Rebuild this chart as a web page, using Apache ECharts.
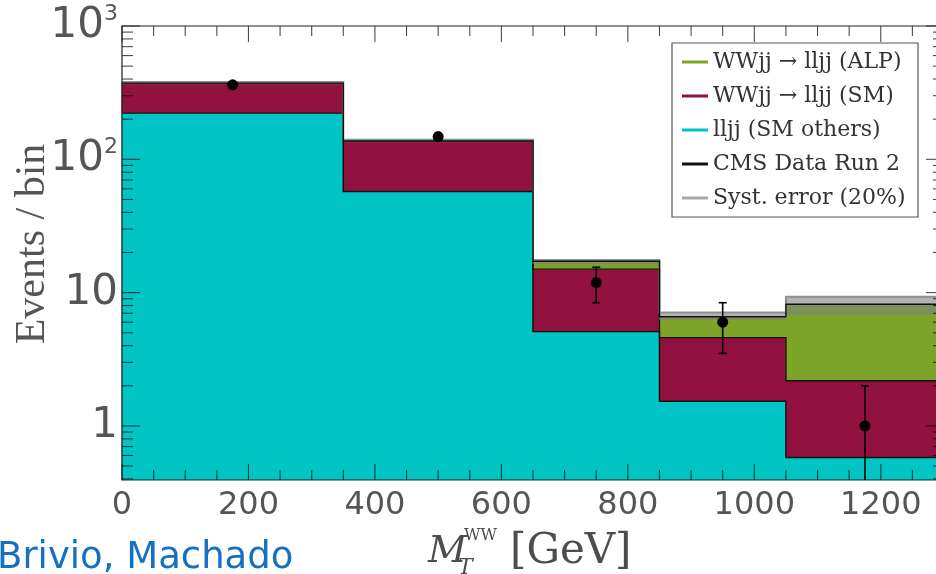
<!DOCTYPE html>
<html><head><meta charset="utf-8">
<script src="https://cdn.jsdelivr.net/npm/echarts@6/dist/echarts.min.js"></script>
<style>html,body{margin:0;padding:0;background:#fff}#c{width:936px;height:574px}</style>
</head><body><div id="c"></div>
<script>
// ---- data ----
const binEdges = [0, 350, 650, 850, 1050, 1300];
const smOthers = [222, 57.3, 5.1, 1.53, 0.58];      // lljj (SM others)
const wwSM = [150, 79, 9.9, 3.07, 1.6];              // WWjj -> lljj (SM)
const wwALP = [1, 1, 2.2, 2.0, 6.0];                 // WWjj -> lljj (ALP)
const systUp = [380, 140, 17.6, 7.08, 9.33];
const systDown = [366, 134, 16.4, 6.24, 6.8];
const dataX = [175, 500, 750, 950, 1175];
const dataY = [362, 148, 11.9, 6.0, 1.0];
const dataErrUp = [378, 158, 15.5, 8.4, 2.0];
const dataErrDown = [347, 137, 8.4, 3.5, 0];
const xTickLabels = [0, 200, 400, 600, 800, 1000, 1200];
const yTickLabels = [1, 10, 100, 1000];
const xRange = [0, 1300];
const yRange = [0.393, 1000];
const legendNames = ['WWjj → lljj (ALP)', 'WWjj → lljj (SM)', 'lljj (SM others)', 'CMS Data Run 2', 'Syst. error (20%)'];
const legendColors = ['#7ba428', '#921240', '#00c4c4', '#111111', '#a8a8a8'];

const COL_CYAN = '#00c5c4', COL_RED = '#92123f', COL_GREEN = '#7ba428';

const stack1 = smOthers.slice();
const stack2 = stack1.map((v, i) => v + wwSM[i]);
const stack3 = stack2.map((v, i) => v + wwALP[i]);

function fillSeries(name, color, lows, highs, z) {
  return {
    type: 'custom', name, coordinateSystem: 'cartesian2d', z, silent: true,
    data: binEdges.slice(0, -1).map((e, i) => [e, binEdges[i + 1], lows[i], highs[i]]),
    encode: { x: [0, 1], y: [2, 3] },
    renderItem(params, api) {
      const cs = params.coordSys;
      const p0 = api.coord([api.value(0), api.value(3)]);
      const p1 = api.coord([api.value(1), api.value(2)]);
      const yb = Math.min(p1[1], cs.y + cs.height);
      return { type: 'rect', shape: { x: p0[0] - 0.5, y: p0[1], width: p1[0] - p0[0] + 1, height: yb - p0[1] },
        style: { fill: color } };
    }
  };
}
function stepSeries(levels, color, width, z) {
  return {
    type: 'custom', coordinateSystem: 'cartesian2d', z, silent: true,
    data: [[xRange[0], yRange[1]]],
    renderItem(params, api) {
      const pts = [];
      levels.forEach((v, i) => { pts.push(api.coord([binEdges[i], v])); pts.push(api.coord([binEdges[i + 1], v])); });
      return { type: 'polyline', shape: { points: pts }, style: { stroke: color, lineWidth: width, fill: null } };
    }
  };
}

const option = {
  animation: false,
  backgroundColor: '#fff',
  grid: { left: 122, right: -8, top: 26, bottom: 94, containLabel: false, outerBoundsMode: 'none' },
  xAxis: {
    type: 'value', min: xRange[0], max: xRange[1], interval: 200,
    axisLine: { show: false }, axisTick: { show: false }, splitLine: { show: false },
    axisLabel: {
      margin: 10, color: '#555', fontFamily: 'DejaVu Sans', fontSize: 32, showMaxLabel: false,
      formatter: v => xTickLabels.includes(v) ? String(v) : ''
    }
  },
  yAxis: {
    type: 'log', logBase: 10, min: yRange[0], max: yRange[1],
    axisLine: { show: false }, axisTick: { show: false }, splitLine: { show: false },
    axisLabel: {
      margin: 4, color: '#555', fontFamily: 'DejaVu Sans', fontSize: 42,
      formatter: v => {
        const l = Math.log10(v), k = Math.round(l);
        if (Math.abs(l - k) > 1e-6 || !yTickLabels.includes(Math.pow(10, k))) return '';
        return k <= 1 ? String(Math.pow(10, k)) : '{b|10}{s|' + k + '}';
      },
      rich: {
        b: { fontSize: 42, fontFamily: 'DejaVu Sans', color: '#555', lineHeight: 46 },
        s: { fontSize: 22, fontFamily: 'DejaVu Sans', color: '#555', verticalAlign: 'top', lineHeight: 22 }
      }
    },
    name: 'Events / bin', nameLocation: 'middle', nameRotate: 90, nameGap: 68, nameMoveOverlap: false,
    nameTextStyle: { fontFamily: 'Liberation Serif', fontSize: 42, color: '#555', padding: [0, 0, 0, 18] }
  },
  legend: {
    left: 672, top: 43, orient: 'vertical', selectedMode: false,
    backgroundColor: '#fff', borderColor: '#555', borderWidth: 1.2, borderRadius: 0,
    padding: [7, 10, 7, 10], itemGap: 10, itemWidth: 26, itemHeight: 3,
    textStyle: { fontFamily: 'DejaVu Serif', fontSize: 22, color: '#333', lineHeight: 24, width: 195 },
    data: legendNames.map((n, i) => ({ name: n, icon: 'rect', itemStyle: { color: legendColors[i] } }))
  },
  graphic: [
    { type: 'text', x: -3, y: 558, style: { text: 'Brivio, Machado', fontFamily: 'DejaVu Sans', fontSize: 37, fill: '#1670c2', verticalAlign: 'middle' } },
    { type: 'text', x: 428, y: 552, style: { text: 'M', fontFamily: 'DejaVu Serif', fontStyle: 'italic', fontSize: 38, fill: '#4d4d4d', verticalAlign: 'middle' } },
    { type: 'text', x: 464, y: 536, style: { text: 'WW', fontFamily: 'DejaVu Serif', fontSize: 16, fill: '#4d4d4d', verticalAlign: 'middle' } },
    { type: 'text', x: 458, y: 568, style: { text: 'T', fontFamily: 'DejaVu Serif', fontStyle: 'italic', fontSize: 22, fill: '#4d4d4d', verticalAlign: 'middle' } },
    { type: 'text', x: 510, y: 552, style: { text: '[GeV]', fontFamily: 'DejaVu Serif', fontSize: 42, fill: '#4d4d4d', verticalAlign: 'middle' } }
  ],
  series: [
    fillSeries('lljj (SM others)', COL_CYAN, stack1.map(() => yRange[0]), stack1, 2),
    fillSeries('WWjj → lljj (SM)', COL_RED, stack1, stack2, 2),
    fillSeries('WWjj → lljj (ALP)', COL_GREEN, stack2, stack3, 2),
    stepSeries(stack1, '#111', 1.4, 3),
    stepSeries(stack2, '#111', 1.4, 3),
    fillSeries('Syst. error (20%)', 'rgba(128,128,128,0.6)', systDown, systUp, 4),
    stepSeries(systUp, 'rgba(140,140,140,0.95)', 2, 4),
    stepSeries(stack3, '#111', 1.4, 5),
    {
      type: 'custom', name: 'CMS Data Run 2', coordinateSystem: 'cartesian2d', z: 6, silent: true,
      data: dataX.map((x, i) => [x, dataY[i], dataErrUp[i], dataErrDown[i]]),
      encode: { x: 0, y: 1 },
      renderItem(params, api) {
        const cs = params.coordSys;
        const x = api.value(0), y = api.value(1), up = api.value(2), dn = api.value(3);
        const p = api.coord([x, y]);
        const pu = api.coord([x, up]);
        const hasDn = dn > yRange[0];
        const pd = hasDn ? api.coord([x, dn]) : [p[0], cs.y + cs.height];
        const st = { stroke: '#000', lineWidth: 1.6 };
        const ch = [
          { type: 'line', shape: { x1: p[0], y1: pu[1], x2: p[0], y2: pd[1] }, style: st },
          { type: 'circle', shape: { cx: p[0], cy: p[1], r: 5.5 }, style: { fill: '#000' } }
        ];
        if (p[1] - pu[1] > 8) ch.push({ type: 'line', shape: { x1: p[0] - 4, y1: pu[1], x2: p[0] + 4, y2: pu[1] }, style: st });
        if (hasDn && pd[1] - p[1] > 8) ch.push({ type: 'line', shape: { x1: p[0] - 4, y1: pd[1], x2: p[0] + 4, y2: pd[1] }, style: st });
        return { type: 'group', children: ch };
      }
    },
    {
      // frame and inward ticks
      type: 'custom', coordinateSystem: 'cartesian2d', z: 20, silent: true,
      data: [[xRange[0], yRange[1]]],
      renderItem(params, api) {
        const cs = params.coordSys;
        const ch = [];
        const tk = { stroke: 'rgba(0,0,0,0.7)', lineWidth: 1.1 };
        const bottom = cs.y + cs.height, top = cs.y, left = cs.x, right = cs.x + cs.width;
        for (let v = xRange[0]; v <= xRange[1]; v += 50) {
          const px = api.coord([v, 1])[0];
          const len = v % 200 === 0 ? 16 : 10;
          ch.push({ type: 'line', shape: { x1: px, y1: bottom, x2: px, y2: bottom - len }, style: tk });
          ch.push({ type: 'line', shape: { x1: px, y1: top, x2: px, y2: top + len }, style: tk });
        }
        for (let k = -1; k <= 3; k++) {
          for (let m = 1; m <= 9; m++) {
            const v = m * Math.pow(10, k);
            if (v < yRange[0] || v > yRange[1] * 1.0001) continue;
            const py = api.coord([0, v])[1];
            const len = m === 1 ? 18 : 11;
            ch.push({ type: 'line', shape: { x1: left, y1: py, x2: left + len, y2: py }, style: tk });
            ch.push({ type: 'line', shape: { x1: right, y1: py, x2: right - len, y2: py }, style: tk });
          }
        }
        ch.push({ type: 'rect', shape: { x: left, y: top, width: cs.width, height: cs.height },
          style: { fill: null, stroke: '#222', lineWidth: 1.2 } });
        return { type: 'group', children: ch };
      }
    }
  ]
};
const chart = echarts.init(document.getElementById('c'), null, { renderer: 'canvas' });
chart.setOption(option);
</script>
</body></html>
